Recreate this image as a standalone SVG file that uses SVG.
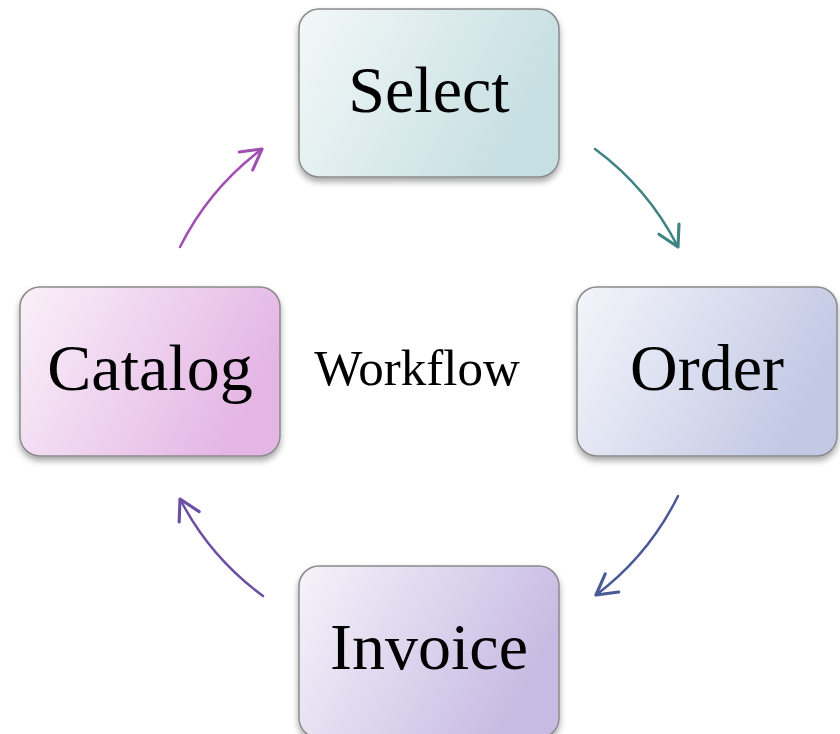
<svg xmlns="http://www.w3.org/2000/svg" width="840" height="734" viewBox="0 0 840 734">
<style>
.box{stroke:#8a8a8a;stroke-width:1.5}
.lbl{font-family:"Liberation Serif","Times New Roman",serif;font-size:66px;fill:#000;text-anchor:middle}
.conn{fill:none;stroke-width:2.5;stroke-linecap:round}
</style>
<defs>
<filter id="sh" x="-10%" y="-10%" width="120%" height="130%">
<feDropShadow dx="0" dy="4" stdDeviation="3" flood-color="#000" flood-opacity="0.35"/>
</filter>
<linearGradient id="gS" x1="0" y1="0" x2="1" y2="0.35"><stop offset="0" stop-color="#f3f8f8"/><stop offset="1" stop-color="#c6dfe2"/></linearGradient>
<linearGradient id="gO" x1="0" y1="0" x2="1" y2="0.35"><stop offset="0" stop-color="#f4f5fa"/><stop offset="1" stop-color="#c3c9e5"/></linearGradient>
<linearGradient id="gI" x1="0" y1="0" x2="1" y2="0.35"><stop offset="0" stop-color="#f5f3fa"/><stop offset="1" stop-color="#c8bbe3"/></linearGradient>
<linearGradient id="gC" x1="0" y1="0" x2="1" y2="0.35"><stop offset="0" stop-color="#faf1f9"/><stop offset="1" stop-color="#e4b6e5"/></linearGradient>
<marker id="mT" markerUnits="userSpaceOnUse" markerWidth="30" markerHeight="30" viewBox="-20 -12 24 24" refX="0" refY="0" orient="auto"><path d="M-16,-9 L0,0 L-16,9" fill="none" stroke="#3f8383" stroke-width="2.5" stroke-linecap="round" stroke-linejoin="round"/></marker>
<marker id="mB" markerUnits="userSpaceOnUse" markerWidth="30" markerHeight="30" viewBox="-20 -12 24 24" refX="0" refY="0" orient="auto"><path d="M-16,-9 L0,0 L-16,9" fill="none" stroke="#4a5a96" stroke-width="2.5" stroke-linecap="round" stroke-linejoin="round"/></marker>
<marker id="mP" markerUnits="userSpaceOnUse" markerWidth="30" markerHeight="30" viewBox="-20 -12 24 24" refX="0" refY="0" orient="auto"><path d="M-16,-9 L0,0 L-16,9" fill="none" stroke="#6a4fa3" stroke-width="2.5" stroke-linecap="round" stroke-linejoin="round"/></marker>
<marker id="mM" markerUnits="userSpaceOnUse" markerWidth="30" markerHeight="30" viewBox="-20 -12 24 24" refX="0" refY="0" orient="auto"><path d="M-16,-9 L0,0 L-16,9" fill="none" stroke="#a050b0" stroke-width="2.5" stroke-linecap="round" stroke-linejoin="round"/></marker>
</defs>
<g id="connectors">
<path class="conn" stroke="#3f8383" marker-end="url(#mT)" d="M595,149 A278,278 0 0 1 678,247"/>
<path class="conn" stroke="#4a5a96" marker-end="url(#mB)" d="M678,496 A278,278 0 0 1 596,595"/>
<path class="conn" stroke="#6a4fa3" marker-end="url(#mP)" d="M263,596 A278,278 0 0 1 180,499"/>
<path class="conn" stroke="#a050b0" marker-end="url(#mM)" d="M180,247 A278,278 0 0 1 262,149"/>
</g>
<g id="node-select">
<rect class="box" x="299" y="9" width="260" height="168" rx="20" fill="url(#gS)" filter="url(#sh)"/>
<text class="lbl" x="429" y="112">Select</text>
</g>
<g id="node-order">
<rect class="box" x="577" y="287" width="260" height="169" rx="20" fill="url(#gO)" filter="url(#sh)"/>
<text class="lbl" x="707" y="390">Order</text>
</g>
<g id="node-invoice">
<rect class="box" x="299" y="566" width="260" height="172" rx="20" fill="url(#gI)" filter="url(#sh)"/>
<text class="lbl" x="429" y="669">Invoice</text>
</g>
<g id="node-catalog">
<rect class="box" x="20" y="287" width="260" height="169" rx="20" fill="url(#gC)" filter="url(#sh)"/>
<text class="lbl" x="150" y="390">Catalog</text>
</g>
<g id="center-label">
<text x="417" y="385" style="font-family:'Liberation Serif','Times New Roman',serif;font-size:51px;fill:#000;text-anchor:middle">Workflow</text>
</g>
</svg>
